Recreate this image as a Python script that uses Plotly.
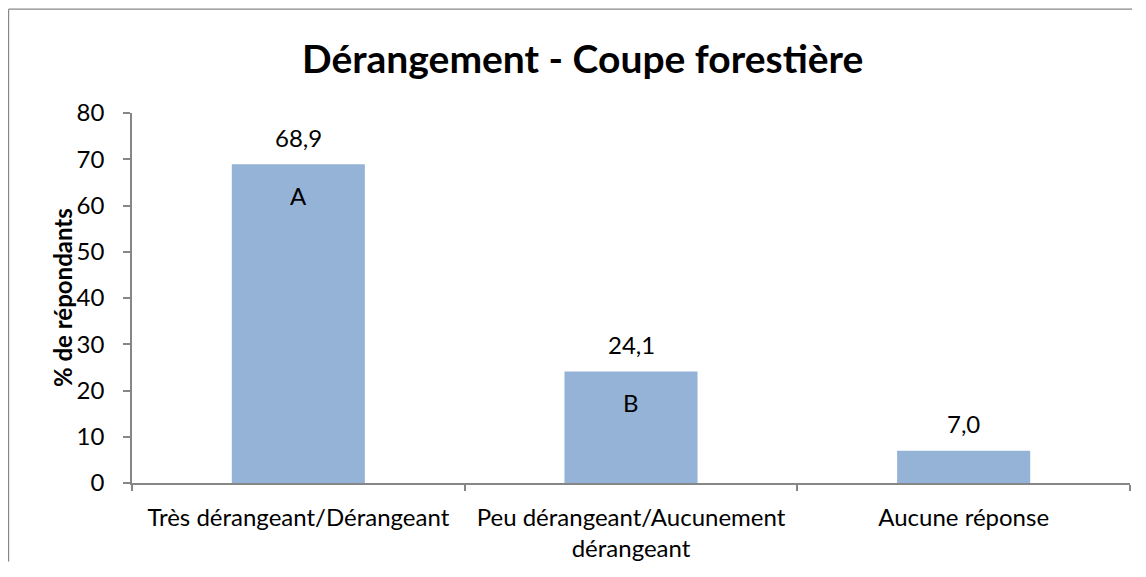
import plotly.graph_objects as go

categories = ["Très dérangeant/Dérangeant", "Peu dérangeant/Aucunement<br>dérangeant", "Aucune réponse"]
values = [68.9, 24.1, 7.0]
letters = ["A", "B", ""]
y_ticks = [0, 10, 20, 30, 40, 50, 60, 70, 80]

# page has an 8px body margin: the figure div starts at (8, 8); keep it well inside the viewport
W, H = 1124, 556
L, R, T, B = 124, 2, 105, 79
pw = W - L - R
ph = H - T - B
FONT = "Lato, 'Open Sans', sans-serif"
BAR = "#95B3D7"
AX = "#868686"

fig = go.Figure()
fig.add_trace(go.Bar(
    x=categories, y=values, width=0.4,
    marker=dict(color=BAR, line=dict(width=0)),
    hoverinfo="skip",
))

annotations = []
for c, v, l in zip(categories, values, letters):
    annotations.append(dict(x=c, y=v, xref="x", yref="y",
                            text=f"{v:.1f}".replace(".", ","), showarrow=False,
                            yanchor="middle", yshift=27,
                            font=dict(size=24, color="#000000", family=FONT)))
    if l:
        annotations.append(dict(x=c, y=v, xref="x", yref="y", text=l, showarrow=False,
                                yanchor="middle", yshift=-31,
                                font=dict(size=24, color="#000000", family=FONT)))
annotations.append(dict(x=(54 - L) / pw, y=0.5, xref="paper", yref="paper",
                        text="<b>% de répondants</b>", textangle=-90, showarrow=False,
                        xanchor="center", yanchor="middle",
                        font=dict(size=24, color="#000000", family=FONT)))
annotations.append(dict(x=(574 - L) / pw, y=1 + (T - 50) / ph, xref="paper", yref="paper",
                        text="<b>Dérangement - Coupe forestière</b>", showarrow=False,
                        xanchor="center", yanchor="middle",
                        font=dict(size=39, color="#000000", family=FONT)))

# outer chart frame: only its left and top edges are in view
fx0 = (0.6 - L) / pw
fy0 = 1 + (T - 0.6) / ph
shapes = [
    dict(type="line", xref="paper", yref="paper", x0=fx0, x1=fx0, y0=fy0, y1=-B / ph,
         line=dict(color="#888888", width=1.2), layer="below"),
    dict(type="line", xref="paper", yref="paper", x0=fx0, x1=(W - L) / pw, y0=fy0, y1=fy0,
         line=dict(color="#888888", width=1.2), layer="below"),
]

fig.update_layout(
    width=W, height=H,
    margin=dict(l=L, r=R, t=T, b=B, pad=0),
    paper_bgcolor="white", plot_bgcolor="white",
    showlegend=False, bargap=0.6,
    annotations=annotations, shapes=shapes,
    font=dict(family=FONT, size=24, color="#000000"),
    xaxis=dict(range=[-0.5, 2.5], showline=True, linecolor=AX, linewidth=1.5,
               ticks="outside", tickson="boundaries", ticklen=6, tickcolor=AX, tickwidth=1.5,
               showgrid=False, zeroline=False, ticklabelstandoff=12,
               tickfont=dict(size=24, family=FONT, color="#000000")),
    yaxis=dict(range=[0, 80], tickvals=y_ticks, showline=True, linecolor=AX, linewidth=1.5,
               ticks="outside", ticklen=7, tickcolor=AX, tickwidth=1.5,
               showgrid=False, zeroline=False, ticklabelstandoff=14,
               tickfont=dict(size=24, family=FONT, color="#000000")),
)

fig.write_html("out.html")
